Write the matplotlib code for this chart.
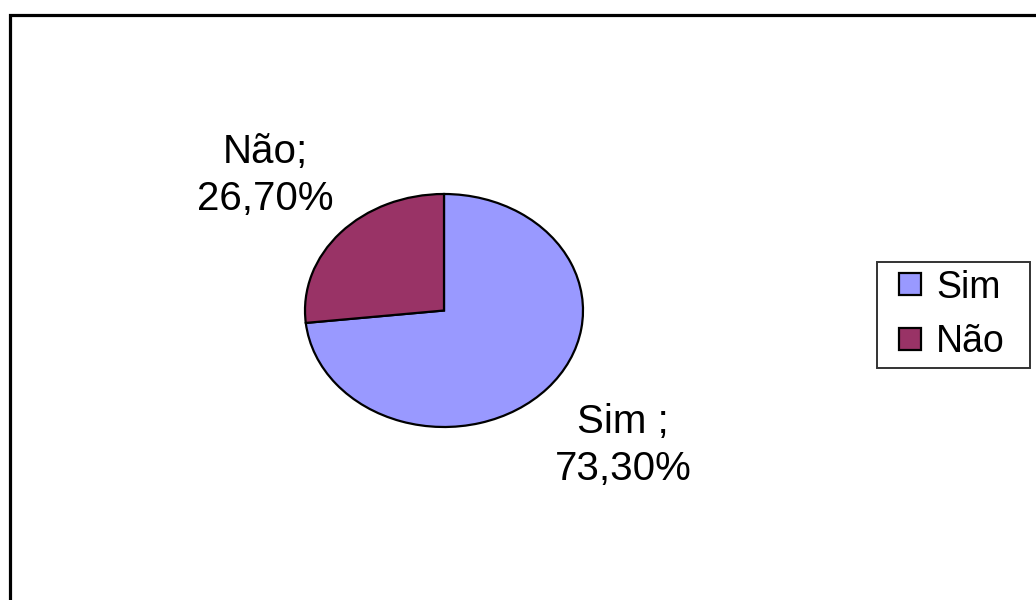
import numpy as np
import matplotlib.pyplot as plt
from matplotlib.patches import Rectangle
from matplotlib.legend_handler import HandlerPatch

plt.rcParams['font.family'] = ['Liberation Sans', 'DejaVu Sans']

labels = ['Sim', 'Não']
values = [73.3, 26.7]
label_txt = ['Sim ;\n73,30%', 'Não;\n26,70%']
colors = ['#9999FF', '#993366']

fig = plt.figure(figsize=(10.36, 6.0), dpi=100)
fig.patch.set_facecolor('white')

# outer chart frame (only top/left visible in the original)
fig.patches.append(Rectangle((10/1036, -0.05), 1.1, 0.05 + (600-15)/600,
                             transform=fig.transFigure, fill=False,
                             edgecolor='black', linewidth=2.3, zorder=0))

# axes sized so the pie comes out as a flattened ellipse
ax = fig.add_axes([305/1036, (600-427)/600, 278/1036, 233/600])
wedges, texts = ax.pie(values, labels=label_txt, colors=colors,
                       startangle=90, counterclock=False, radius=1.0,
                       labeldistance=1.73,
                       wedgeprops=dict(edgecolor='black', linewidth=1.6),
                       textprops=dict(fontsize=29, color='black'))
for t in texts:
    t.set_ha('center')
    t.set_va('center')
    t.set_linespacing(1.3)
ax.set_aspect('auto')
ax.set_xlim(-1.0, 1.0)
ax.set_ylim(-1.0, 1.0)
ax.axis('off')


def small_square(legend, orig_handle, xdescent, ydescent, width, height, fontsize):
    # square sitting at the right end of the handle box
    s = height
    return Rectangle((-xdescent + width - s, -ydescent), s, s)


leg = fig.legend(wedges, labels, loc='upper left',
                 bbox_to_anchor=(877/1036, 1 - 262/600 - 0.01, 153/1036, 0.01),
                 mode='expand', fontsize=27, frameon=True, fancybox=False,
                 handler_map={w: HandlerPatch(patch_func=small_square) for w in wedges},
                 handlelength=0.97, handleheight=0.52, handletextpad=0.4,
                 labelspacing=0.5, borderpad=0.2, borderaxespad=0)
leg.get_frame().set_edgecolor('black')
leg.get_frame().set_linewidth(1.4)
for h in leg.legend_handles:
    h.set_edgecolor('black')
    h.set_linewidth(1.6)

fig.savefig('out.png', dpi=100, facecolor='white')
